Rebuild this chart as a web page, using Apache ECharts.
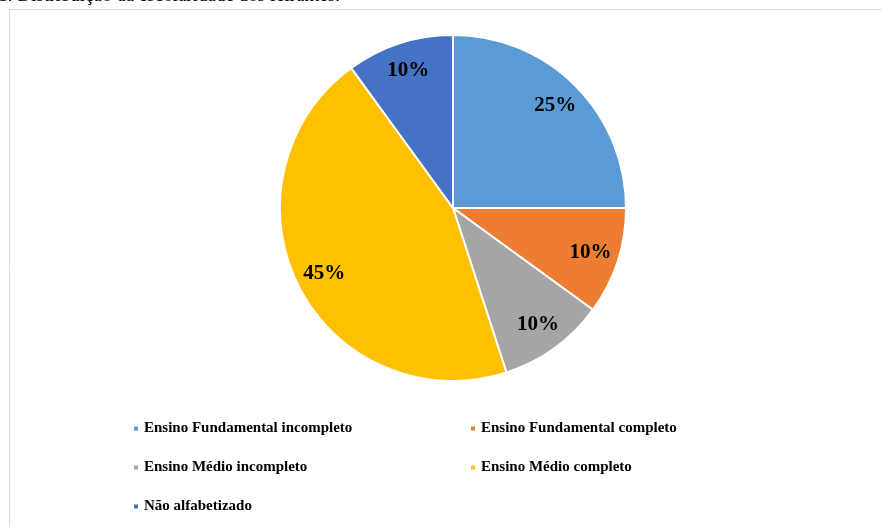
<!DOCTYPE html>
<html>
<head>
<meta charset="utf-8">
<script src="https://cdn.jsdelivr.net/npm/echarts@6/dist/echarts.min.js"></script>
<style>
  html, body { margin: 0; padding: 0; background: #ffffff; }
  #chart { width: 882px; height: 527px; }
</style>
</head>
<body>
<div id="chart"></div>
<script>
// Escolaridade dos feirantes (percentual)
const categories = [
  'Ensino Fundamental incompleto',
  'Ensino Fundamental completo',
  'Ensino Médio incompleto',
  'Ensino Médio completo',
  'Não alfabetizado'
];
const values = [25, 10, 10, 45, 10];
const colors = ['#5B9BD5', '#ED7D31', '#A5A5A5', '#FFC000', '#4472C4'];
const captionText = '1: Distribuição da escolaridade dos feirantes.';

const serif = 'Liberation Serif';
const pieData = categories.map((name, i) => ({ name, value: values[i] }));

const chart = echarts.init(document.getElementById('chart'), null, { renderer: 'canvas' });

const legendCommon = {
  orient: 'vertical',
  icon: 'rect',
  itemWidth: 6,
  itemHeight: 6,
  itemGap: 24,
  textStyle: { fontFamily: serif, fontWeight: 'bold', fontSize: 15, color: '#000' }
};

chart.setOption({
  animation: false,
  backgroundColor: '#ffffff',
  color: colors,
  graphic: [
    {
      type: 'rect',
      shape: { x: 9.5, y: 9.5, width: 900, height: 540 },
      style: { fill: '#ffffff', stroke: '#d9d9d9', lineWidth: 1 },
      z: -10
    },
    {
      type: 'text',
      left: -2,
      top: -13,
      style: { text: captionText, fontFamily: serif, fontSize: 19, fill: '#000' }
    }
  ],
  legend: [
    Object.assign({}, legendCommon, {
      left: 127, top: 416,
      data: [categories[0], categories[2], categories[4]]
    }),
    Object.assign({}, legendCommon, {
      left: 464, top: 416,
      data: [categories[1], categories[3]]
    })
  ],
  series: [
    {
      type: 'pie',
      center: [453, 208],
      radius: [0, 173],
      startAngle: 90,
      clockwise: true,
      silent: true,
      data: pieData,
      itemStyle: { borderColor: '#ffffff', borderWidth: 2 },
      label: { show: false },
      labelLine: { show: false }
    },
    {
      // percentage labels placed toward the outer part of each slice
      type: 'pie',
      center: [453, 208],
      radius: [110, 173],
      startAngle: 90,
      clockwise: true,
      silent: true,
      data: pieData,
      itemStyle: { color: 'rgba(0,0,0,0)', borderWidth: 0 },
      label: {
        show: true,
        position: 'inside',
        formatter: p => p.value + '%',
        fontFamily: serif,
        fontWeight: 'bold',
        fontSize: 21,
        color: '#000'
      },
      labelLine: { show: false }
    }
  ]
});
</script>
</body>
</html>
